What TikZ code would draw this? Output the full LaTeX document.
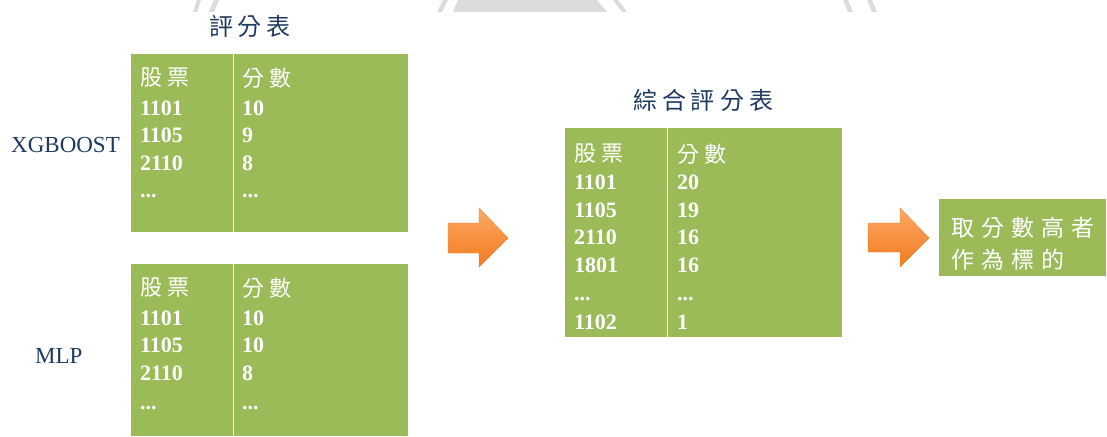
\documentclass[tikz,border=0pt]{standalone}
\usepackage{fontspec}
\setmainfont{Liberation Serif}
\newfontfamily\cjk{Noto Sans CJK TC}
\definecolor{tgreen}{HTML}{9BBB59}
\definecolor{navy}{HTML}{1F3A60}
\definecolor{wmgrey}{HTML}{DADBDB}
\definecolor{orlight}{HTML}{FBA864}
\definecolor{ordark}{HTML}{F47A1F}
\definecolor{oredge}{HTML}{EE8030}
\newcommand\lsp{\hspace{5pt}}
\newcommand\lspw{\hspace{7pt}}
\begin{document}
\begin{tikzpicture}[x=1pt,y=-1pt,
  tbl/.style={fill=tgreen,draw=none,anchor=north west,inner sep=0pt,outer sep=0pt},
  cell/.style={anchor=base west,text=white,inner sep=0pt,font=\bfseries\fontsize{22}{22}\selectfont},
  head/.style={anchor=west,text=white,inner sep=0pt,font=\cjk\fontsize{22}{22}\selectfont},
  reshead/.style={anchor=west,text=white,inner sep=0pt,font=\cjk\fontsize{23}{23}\selectfont},
  ttl/.style={text=navy,inner sep=0pt,font=\cjk\fontsize{24}{24}\selectfont},
  lbl/.style={text=navy,inner sep=0pt,font=\fontsize{23}{23}\selectfont},
  divider/.style={draw=white,line width=0.9pt},
  blockarrow/.style={top color=orlight,bottom color=ordark,draw=oredge,line width=0.4pt},
  wm/.style={fill=wmgrey,draw=none}]
\useasboundingbox (0,0) rectangle (1107,436);
% watermark shapes at the top
\fill[wm] (197,0) -- (201,0) -- (197,12) -- (193,12) -- cycle;
\fill[wm] (214,0) -- (219,0) -- (214,12) -- (209,12) -- cycle;
\fill[wm] (443,0) -- (448,0) -- (442,12) -- (437,12) -- cycle;
\fill[wm] (458,0) -- (597,0) -- (607,12) -- (453,12) -- cycle;
\fill[wm] (613,0) -- (618,0) -- (627,12) -- (622,12) -- cycle;
\fill[wm] (843,0) -- (848,0) -- (853,12) -- (848,12) -- cycle;
\fill[wm] (867,0) -- (872,0) -- (877,12) -- (872,12) -- cycle;

% titles and labels
\node[ttl] (title1) at (250,26) {評\lsp 分\lsp 表};
\node[ttl] (title2) at (703,100) {綜\lsp 合\lsp 評\lsp 分\lsp 表};
\node[lbl,anchor=west] (xgb) at (11,145) {XGBOOST};
\node[lbl,anchor=west] (mlp) at (35,356) {MLP};

% table 1 (XGBOOST)
\node[tbl,minimum width=277pt,minimum height=178pt] (t1) at (131,54) {};
\draw[divider] (233,54) -- (233,232);
\node[head] (t1h1) at (140,78) {股\lsp 票};
\node[head] (t1h2) at (242,78) {分\lsp 數};
\node[cell] (t1a1) at (140,115) {1101}; \node[cell] (t1b1) at (242,115) {10};
\node[cell] (t1a2) at (140,142) {1105}; \node[cell] (t1b2) at (242,142) {9};
\node[cell] (t1a3) at (140,170) {2110}; \node[cell] (t1b3) at (242,170) {8};
\node[cell] (t1a4) at (140,197) {...};  \node[cell] (t1b4) at (242,197) {...};

% table 2 (MLP)
\node[tbl,minimum width=277pt,minimum height=172pt] (t2) at (131,264) {};
\draw[divider] (233,264) -- (233,436);
\node[head] (t2h1) at (140,288) {股\lsp 票};
\node[head] (t2h2) at (242,288) {分\lsp 數};
\node[cell] (t2a1) at (140,325) {1101}; \node[cell] (t2b1) at (242,325) {10};
\node[cell] (t2a2) at (140,352) {1105}; \node[cell] (t2b2) at (242,352) {10};
\node[cell] (t2a3) at (140,380) {2110}; \node[cell] (t2b3) at (242,380) {8};
\node[cell] (t2a4) at (140,409) {...};  \node[cell] (t2b4) at (242,409) {...};

% combined table
\node[tbl,minimum width=277pt,minimum height=209pt] (t3) at (565,128) {};
\draw[divider] (667,128) -- (667,337);
\node[head] (t3h1) at (574,154) {股\lsp 票};
\node[head] (t3h2) at (677,154) {分\lsp 數};
\node[cell] (t3a1) at (574,189) {1101}; \node[cell] (t3b1) at (677,189) {20};
\node[cell] (t3a2) at (574,217) {1105}; \node[cell] (t3b2) at (677,217) {19};
\node[cell] (t3a3) at (574,244) {2110}; \node[cell] (t3b3) at (677,244) {16};
\node[cell] (t3a4) at (574,272) {1801}; \node[cell] (t3b4) at (677,272) {16};
\node[cell] (t3a5) at (574,300) {...};  \node[cell] (t3b5) at (677,300) {...};
\node[cell] (t3a6) at (574,329) {1102}; \node[cell] (t3b6) at (677,329) {1};

% result box
\node[tbl,minimum width=167pt,minimum height=77pt] (res) at (939,199) {};
\node[reshead] (res1) at (951,228) {取\lspw 分\lspw 數\lspw 高\lspw 者};
\node[reshead] (res2) at (951,260) {作\lspw 為\lspw 標\lspw 的};

% block arrows
\shade[blockarrow] (448,223) -- (479,223) -- (479,208) -- (508,238) -- (479,267) -- (479,253) -- (448,253) -- cycle;
\shade[blockarrow] (868,223) -- (900,223) -- (900,208) -- (929,238) -- (900,267) -- (900,252) -- (868,252) -- cycle;
\end{tikzpicture}
\end{document}
